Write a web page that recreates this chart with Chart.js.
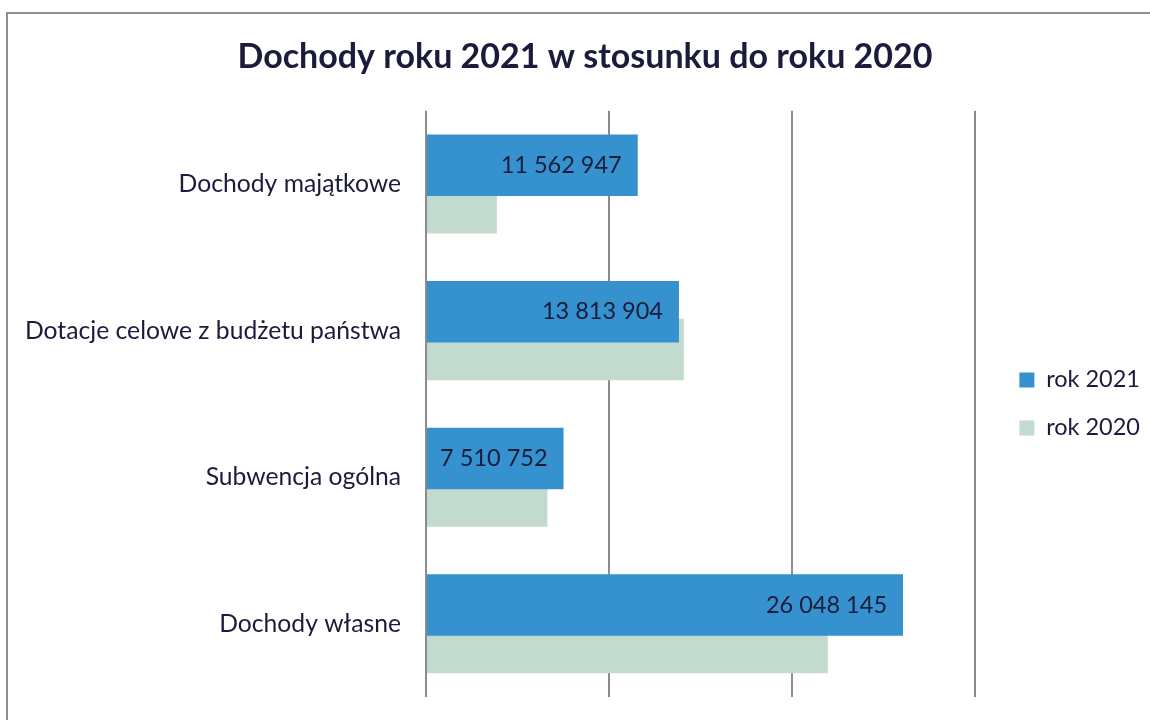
<!DOCTYPE html>
<html>
<head>
<meta charset="utf-8">
<script src="https://cdn.jsdelivr.net/npm/chart.js@4"></script>
<style>
  html, body { margin: 0; padding: 0; background: #fff; overflow: hidden; }
  #wrap { position: relative; width: 1150px; height: 720px; }
  #frame {
    position: absolute; left: 6px; top: 12px; width: 1300px; height: 900px;
    border-left: 2px solid #8e8e8e; border-top: 2px solid #8e8e8e;
    pointer-events: none;
  }
</style>
</head>
<body>
<div id="wrap">
  <canvas id="wykres" width="1150" height="720"></canvas>
  <div id="frame"></div>
</div>
<script>
// dane
const kategorie = ['Dochody majątkowe', 'Dotacje celowe z budżetu państwa', 'Subwencja ogólna', 'Dochody własne'];
const rok2021 = [11562947, 13813904, 7510752, 26048145];
const rok2020 = [3870000, 14080000, 6630000, 21940000]; // szacunek z długości słupków
const podzialka = [0, 10000000, 20000000, 30000000];

const kolorTekstu = '#1b1b3b';

// 11562947 -> "11 562 947"
function formatuj(v) {
  return String(v).replace(/\B(?=(\d{3})+(?!\d))/g, ' ');
}

// etykiety wartości w niebieskich słupkach
const etykiety = {
  id: 'etykiety',
  afterDatasetsDraw(chart) {
    const ctx = chart.ctx;
    const meta = chart.getDatasetMeta(0);
    ctx.save();
    ctx.font = '23.5px Lato';
    ctx.fillStyle = kolorTekstu;
    ctx.textAlign = 'right';
    ctx.textBaseline = 'middle';
    meta.data.forEach(function(bar, i) {
      ctx.fillText(formatuj(rok2021[i]), bar.x - 16, bar.y);
    });
    ctx.restore();
  }
};

const ctx = document.getElementById('wykres').getContext('2d');
const wykres = new Chart(ctx, {
  type: 'bar',
  data: {
    labels: kategorie,
    datasets: [
      {
        label: 'rok 2021',
        data: rok2021,
        backgroundColor: '#3691cf',
        categoryPercentage: 0.513,
        barPercentage: 1.636
      },
      {
        label: 'rok 2020',
        data: rok2020,
        backgroundColor: '#c3dbce',
        categoryPercentage: 0.513,
        barPercentage: 1.636
      }
    ]
  },
  plugins: [etykiety],
  options: {
    indexAxis: 'y',
    responsive: false,
    animation: false,
    layout: {
      padding: { left: 20, right: 0, top: 0, bottom: 23 }
    },
    plugins: {
      title: {
        display: true,
        text: 'Dochody roku 2021 w stosunku do roku 2020',
        color: kolorTekstu,
        font: { family: 'Lato', size: 34, weight: 'bold' },
        padding: { top: 37, bottom: 33 }
      },
      legend: {
        position: 'right',
        fullSize: false,
        labels: {
          color: kolorTekstu,
          font: { family: 'Lato', size: 23.5 },
          boxWidth: 15,
          boxHeight: 15,
          padding: 24.5
        }
      },
      tooltip: { enabled: false }
    },
    scales: {
      x: {
        min: 0,
        max: 30000000,
        afterBuildTicks: function(scale) {
          scale.ticks = podzialka.map(function(v) { return { value: v }; });
        },
        afterFit: function(scale) { scale.height = 0; },
        ticks: { display: false },
        grid: { color: '#8c8c8c', lineWidth: 2, drawTicks: false },
        border: { display: false }
      },
      y: {
        afterFit: function(scale) { scale.width = 406; },
        ticks: {
          color: kolorTekstu,
          font: { family: 'Lato', size: 24.7 },
          padding: 0
        },
        grid: { display: false, drawTicks: true, tickLength: 25 },
        border: { display: false }
      },
      odstep: {
        type: 'category',
        axis: 'y',
        position: 'right',
        afterFit: function(scale) { scale.width = 19.5; },
        ticks: { display: false },
        grid: { display: false },
        border: { display: false }
      }
    }
  }
});
</script>
</body>
</html>
